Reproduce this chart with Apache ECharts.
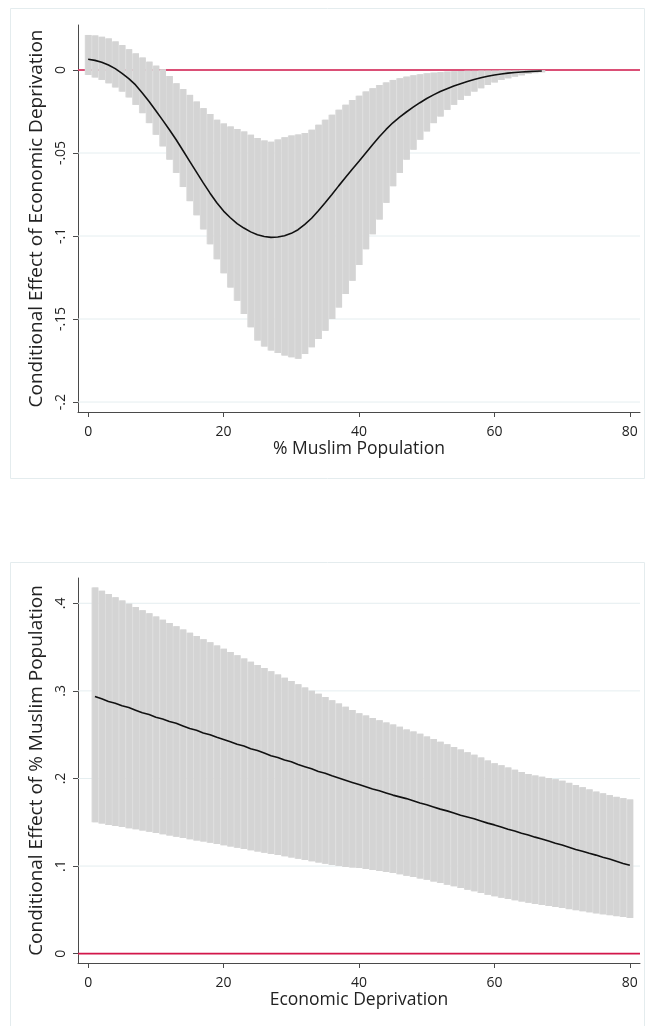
<!DOCTYPE html>
<html>
<head>
<meta charset="utf-8">
<script src="https://cdn.jsdelivr.net/npm/echarts@6/dist/echarts.min.js"></script>
<style>
  html, body { margin: 0; padding: 0; background: #fff; }
  #chart { width: 645px; height: 1026px; }
</style>
</head>
<body>
<div id="chart"></div>
<script>
// top panel: effect of economic deprivation over % Muslim population
const muslimPct = [0, 1, 2, 3, 4, 5, 6, 7, 8, 9, 10, 11, 12, 13, 14, 15, 16, 17, 18, 19,
  20, 21, 22, 23, 24, 25, 26, 27, 28, 29, 30, 31, 32, 33, 34, 35, 36, 37, 38, 39,
  40, 41, 42, 43, 44, 45, 46, 47, 48, 49, 50, 51, 52, 53, 54, 55, 56, 57, 58, 59,
  60, 61, 62, 63, 64, 65, 66, 67]
const effDeprivation = [0.0065, 0.0058, 0.0047, 0.0030, 0.0008, -0.0020, -0.0052, -0.0090, -0.0138, -0.0190,
  -0.0245, -0.0302, -0.0360, -0.0420, -0.0485, -0.0550, -0.0615, -0.0680, -0.0742, -0.0800,
  -0.0850, -0.0890, -0.0925, -0.0952, -0.0975, -0.0992, -0.1003, -0.1008, -0.1006, -0.0998,
  -0.0984, -0.0962, -0.0930, -0.0893, -0.0848, -0.0800, -0.0750, -0.0698, -0.0648, -0.0598,
  -0.0550, -0.0500, -0.0450, -0.0402, -0.0358, -0.0318, -0.0284, -0.0253, -0.0224, -0.0197,
  -0.0172, -0.0150, -0.0130, -0.0113, -0.0097, -0.0083, -0.0069, -0.0057, -0.0047, -0.0038,
  -0.0030, -0.0024, -0.0019, -0.0015, -0.0012, -0.0010, -0.0008, -0.0006]
const effDeprivationHi = [0.0211, 0.0208, 0.0200, 0.0190, 0.0172, 0.0150, 0.0125, 0.0100, 0.0075, 0.0050,
  0.0026, 0.0004, -0.0036, -0.0080, -0.0115, -0.0150, -0.0190, -0.0230, -0.0265, -0.0300,
  -0.0322, -0.0340, -0.0355, -0.0370, -0.0390, -0.0410, -0.0425, -0.0432, -0.0418, -0.0405,
  -0.0395, -0.0388, -0.0380, -0.0360, -0.0330, -0.0300, -0.0270, -0.0240, -0.0210, -0.0180,
  -0.0155, -0.0130, -0.0110, -0.0090, -0.0075, -0.0060, -0.0050, -0.0040, -0.0032, -0.0026,
  -0.0020, -0.0016, -0.0013, -0.0010, -0.0008, -0.0006, -0.0005, -0.0005, -0.0004, -0.0004,
  -0.0004, -0.0003, -0.0003, -0.0003, -0.0002, -0.0002, -0.0002, -0.0002]
const effDeprivationLo = [-0.0030, -0.0045, -0.0060, -0.0080, -0.0105, -0.0130, -0.0165, -0.0210, -0.0260, -0.0320,
  -0.0390, -0.0460, -0.0540, -0.0620, -0.0705, -0.0790, -0.0875, -0.0960, -0.1050, -0.1140,
  -0.1225, -0.1310, -0.1390, -0.1470, -0.1550, -0.1630, -0.1665, -0.1690, -0.1705, -0.1720,
  -0.1730, -0.1740, -0.1710, -0.1670, -0.1620, -0.1570, -0.1500, -0.1430, -0.1350, -0.1270,
  -0.1175, -0.1080, -0.0990, -0.0900, -0.0800, -0.0700, -0.0620, -0.0540, -0.0480, -0.0420,
  -0.0370, -0.0320, -0.0280, -0.0240, -0.0210, -0.0180, -0.0155, -0.0130, -0.0110, -0.0090,
  -0.0075, -0.0060, -0.0050, -0.0040, -0.0032, -0.0024, -0.0019, -0.0014]
const topYTicks = [0, -0.05, -0.1, -0.15, -0.2]

// bottom panel: effect of % Muslim population over economic deprivation
const deprivation = [1, 2, 3, 4, 5, 6, 7, 8, 9, 10, 11, 12, 13, 14, 15, 16, 17, 18, 19, 20,
  21, 22, 23, 24, 25, 26, 27, 28, 29, 30, 31, 32, 33, 34, 35, 36, 37, 38, 39, 40,
  41, 42, 43, 44, 45, 46, 47, 48, 49, 50, 51, 52, 53, 54, 55, 56, 57, 58, 59, 60,
  61, 62, 63, 64, 65, 66, 67, 68, 69, 70, 71, 72, 73, 74, 75, 76, 77, 78, 79, 80]
const effMuslim = [0.2935, 0.291, 0.288, 0.286, 0.283, 0.281, 0.278, 0.275, 0.273, 0.270,
  0.268, 0.265, 0.263, 0.260, 0.257, 0.255, 0.252, 0.250, 0.247, 0.2445,
  0.242, 0.239, 0.237, 0.234, 0.232, 0.229, 0.226, 0.224, 0.221, 0.219,
  0.216, 0.2135, 0.211, 0.208, 0.206, 0.203, 0.2005, 0.198, 0.1955, 0.193,
  0.1905, 0.188, 0.186, 0.1835, 0.181, 0.179, 0.177, 0.1745, 0.172, 0.170,
  0.1675, 0.165, 0.163, 0.1605, 0.158, 0.156, 0.154, 0.1515, 0.149, 0.147,
  0.1445, 0.142, 0.140, 0.1375, 0.1355, 0.133, 0.131, 0.1285, 0.126, 0.124,
  0.1215, 0.119, 0.117, 0.1145, 0.1125, 0.110, 0.108, 0.1055, 0.103, 0.101]
const effMuslimHi = [0.418, 0.4143, 0.4106, 0.407, 0.4033, 0.3996, 0.3959, 0.3922, 0.3886, 0.3849,
  0.3812, 0.3775, 0.3738, 0.3702, 0.3665, 0.3628, 0.3591, 0.3554, 0.3518, 0.3481,
  0.3444, 0.3407, 0.337, 0.3334, 0.3297, 0.326, 0.3223, 0.3186, 0.315, 0.3113,
  0.3076, 0.3039, 0.3002, 0.2966, 0.2929, 0.2892, 0.2855, 0.2818, 0.2782, 0.2745,
  0.272, 0.269, 0.2665, 0.264, 0.2615, 0.259, 0.256, 0.2535, 0.251, 0.248,
  0.245, 0.242, 0.239, 0.236, 0.233, 0.230, 0.227, 0.224, 0.2205, 0.2175,
  0.215, 0.2125, 0.210, 0.2075, 0.205, 0.2035, 0.202, 0.2005, 0.199, 0.1975,
  0.195, 0.1925, 0.190, 0.1875, 0.185, 0.183, 0.181, 0.179, 0.1775, 0.176]
const effMuslimLo = [0.150, 0.1485, 0.147, 0.1458, 0.1447, 0.1433, 0.1419, 0.1405, 0.1391, 0.1377,
  0.1363, 0.1349, 0.1335, 0.1321, 0.1307, 0.1293, 0.1279, 0.1265, 0.1251, 0.1237,
  0.1223, 0.1209, 0.1195, 0.1181, 0.1167, 0.1153, 0.1139, 0.1125, 0.1111, 0.1097,
  0.1083, 0.1069, 0.1055, 0.1041, 0.1027, 0.1013, 0.1000, 0.0990, 0.0983, 0.0977,
  0.0966, 0.0955, 0.0943, 0.0931, 0.092, 0.0905, 0.089, 0.0874, 0.0859, 0.0844,
  0.0825, 0.0806, 0.0787, 0.0768, 0.075, 0.073, 0.0711, 0.0692, 0.0673, 0.0654,
  0.0639, 0.0624, 0.061, 0.0595, 0.058, 0.0568, 0.0556, 0.0544, 0.0532, 0.052,
  0.0508, 0.0496, 0.0484, 0.0472, 0.046, 0.0449, 0.0439, 0.0428, 0.0418, 0.0407]
const bottomYTicks = [0, 0.1, 0.2, 0.3, 0.4]

const xTicks = [0, 20, 40, 60, 80]
const zeroLine = [0]

const FONT = 'Open Sans'
const AXIS = '#4a4a4a'
const GRIDLINE = '#e5eef0'
const REFLINE = '#d3174b'

function stataNum(v) {
  if (v === 0) return '0'
  return (v < 0 ? '-' : '') + String(Math.abs(v)).replace(/^0/, '')
}

// one grey spike per x value, like a Stata rcap band
function bandItem(params, api) {
  const x = api.value(0)
  const a = api.coord([x - 0.5, api.value(2)])
  const b = api.coord([x + 0.5, api.value(1)])
  const w = b[0] - a[0]
  const h = b[1] - a[1]
  return {
    type: 'group',
    children: [
      { type: 'rect', shape: { x: a[0], y: a[1], width: w, height: h }, style: { fill: '#dadada' } },
      { type: 'rect', shape: { x: a[0] + 1, y: a[1], width: w - 1, height: h }, style: { fill: '#d4d4d4' } }
    ]
  }
}

// horizontal line across the whole plot region
function hLine(color, width) {
  return function (params, api) {
    const cs = params.coordSys
    const y = api.coord([0, api.value(1)])[1]
    return {
      type: 'line',
      shape: { x1: cs.x, y1: y, x2: cs.x + cs.width, y2: y },
      style: { stroke: color, lineWidth: width }
    }
  }
}

function xAxisOpt(idx, name) {
  return {
    type: 'value', gridIndex: idx, min: -1.5, max: 81.5,
    name: name, nameLocation: 'middle', nameGap: 26,
    nameTextStyle: { fontFamily: FONT, fontSize: 17.5, color: '#222' },
    axisLine: { onZero: false, lineStyle: { color: AXIS, width: 1 } },
    axisTick: { customValues: xTicks, length: 5, lineStyle: { color: AXIS } },
    axisLabel: { customValues: xTicks, margin: 13, fontFamily: FONT, fontSize: 14, color: '#222' },
    splitLine: { show: false }
  }
}

function yAxisOpt(idx, min, max, ticks, name) {
  return {
    type: 'value', gridIndex: idx, min: min, max: max,
    name: name, nameLocation: 'middle', nameGap: 28,
    nameTextStyle: { fontFamily: FONT, fontSize: 19, color: '#222' },
    axisLine: { onZero: false, lineStyle: { color: AXIS, width: 1 } },
    axisTick: { customValues: ticks, length: 5, lineStyle: { color: AXIS } },
    axisLabel: {
      customValues: ticks, rotate: 90, margin: 10, fontFamily: FONT, fontSize: 14, color: '#222',
      formatter: stataNum
    },
    splitLine: { show: false }
  }
}

function panelSeries(idx, xs, mid, lo, hi, ticks) {
  return [
    {
      type: 'custom', xAxisIndex: idx, yAxisIndex: idx, z: 1, silent: true,
      renderItem: hLine(GRIDLINE, 1),
      data: ticks.map(v => [0, v])
    },
    {
      type: 'custom', xAxisIndex: idx, yAxisIndex: idx, z: 2, silent: true,
      renderItem: hLine(REFLINE, 1.6),
      data: zeroLine.map(v => [0, v])
    },
    {
      type: 'custom', xAxisIndex: idx, yAxisIndex: idx, z: 3, silent: true,
      renderItem: bandItem,
      encode: { x: 0, y: [1, 2] },
      data: xs.map((x, i) => [x, lo[i], hi[i]])
    },
    {
      type: 'line', xAxisIndex: idx, yAxisIndex: idx, z: 4, silent: true,
      showSymbol: false, symbol: 'none',
      lineStyle: { color: '#111', width: 1.6 },
      data: xs.map((x, i) => [x, mid[i]])
    }
  ]
}

const chart = echarts.init(document.getElementById('chart'), null, { renderer: 'canvas' })
chart.setOption({
  backgroundColor: '#fff',
  animation: false,
  graphic: [
    { type: 'rect', shape: { x: 10.5, y: 8.5, width: 634, height: 470 }, style: { fill: 'none', stroke: '#e4ecee', lineWidth: 1 }, z: -1 },
    { type: 'rect', shape: { x: 10.5, y: 562.5, width: 634, height: 470 }, style: { fill: 'none', stroke: '#e4ecee', lineWidth: 1 }, z: -1 }
  ],
  grid: [
    { left: 78, top: 25, width: 562, height: 387 },
    { left: 78, top: 578, width: 562, height: 385 }
  ],
  xAxis: [
    xAxisOpt(0, '% Muslim Population'),
    xAxisOpt(1, 'Economic Deprivation')
  ],
  yAxis: [
    yAxisOpt(0, -0.206, 0.0271, topYTicks, 'Conditional Effect of Economic Deprivation'),
    yAxisOpt(1, -0.0107, 0.4289, bottomYTicks, 'Conditional Effect of % Muslim Population')
  ],
  series: [
    ...panelSeries(0, muslimPct, effDeprivation, effDeprivationLo, effDeprivationHi, topYTicks),
    ...panelSeries(1, deprivation, effMuslim, effMuslimLo, effMuslimHi, bottomYTicks)
  ]
})
</script>
</body>
</html>
